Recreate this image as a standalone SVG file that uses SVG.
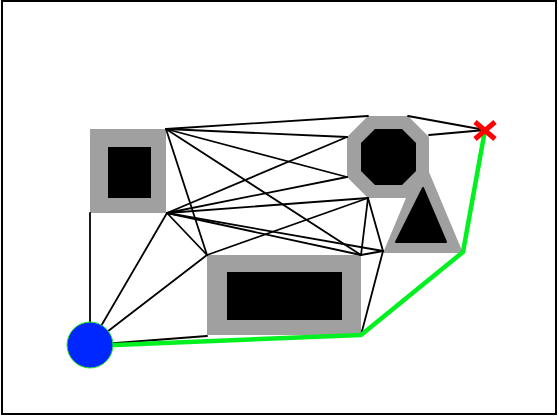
<svg xmlns="http://www.w3.org/2000/svg" width="559" height="418" viewBox="0 0 559 418">
<style>
.zone{fill:#a0a0a0}
.core{fill:#000}
.edge{stroke:#000;stroke-width:1.8;fill:none;stroke-linecap:round}
.path{stroke:#00f020;stroke-width:4.5;fill:none;stroke-linejoin:round;stroke-linecap:round}
</style>
<rect x="2" y="1" width="554" height="413" fill="#fff" stroke="#000" stroke-width="2"/>
<g id="obstacle-square">
<rect class="zone" x="90" y="129" width="76" height="84"/>
<rect class="core" x="108" y="147" width="43" height="51"/>
</g>
<g id="obstacle-octagon-triangle">
<polygon class="zone" points="368,116 408,116 429,137 429,172 463,253 383,253 406,198 368,198 347,177 347,137"/>
<polygon class="core" points="375,129 402,129 416,143 416,171 402,185 375,185 361,171 361,143"/>
<polygon class="core" points="423,188 446,242 396,242" stroke="#000" stroke-width="2" stroke-linejoin="round"/>
</g>
<g id="obstacle-rect">
<rect class="zone" x="207" y="255" width="154" height="80"/>
<rect class="core" x="227" y="272" width="115" height="48"/>
</g>
<g id="connectors">
<line class="edge" x1="90" y1="213" x2="90" y2="345"/>
<line class="edge" x1="167" y1="213" x2="90" y2="345"/>
<line class="edge" x1="207" y1="255" x2="90" y2="345"/>
<line class="edge" x1="207" y1="336" x2="90" y2="345"/>
<line class="edge" x1="166" y1="129" x2="368" y2="116"/>
<line class="edge" x1="166" y1="129" x2="347" y2="137"/>
<line class="edge" x1="166" y1="129" x2="347" y2="177"/>
<line class="edge" x1="166" y1="129" x2="361" y2="255"/>
<line class="edge" x1="166" y1="129" x2="207" y2="255"/>
<line class="edge" x1="167" y1="213" x2="347" y2="137"/>
<line class="edge" x1="167" y1="213" x2="347" y2="177"/>
<line class="edge" x1="167" y1="213" x2="368" y2="198"/>
<line class="edge" x1="167" y1="213" x2="361" y2="255"/>
<line class="edge" x1="167" y1="213" x2="383" y2="251"/>
<line class="edge" x1="167" y1="213" x2="207" y2="255"/>
<line class="edge" x1="207" y1="255" x2="368" y2="198"/>
<line class="edge" x1="368" y1="198" x2="361" y2="255"/>
<line class="edge" x1="368" y1="198" x2="383" y2="251"/>
<line class="edge" x1="361" y1="255" x2="383" y2="251"/>
<line class="edge" x1="383" y1="251" x2="361" y2="335"/>
<line class="edge" x1="408" y1="116" x2="485" y2="130"/>
<line class="edge" x1="429" y1="135" x2="485" y2="130"/>
<polyline class="path" points="90,346 361,335 463,252 485,130"/>
</g>
<g id="start">
<circle cx="90" cy="345" r="23" fill="#0027ff" stroke="#22ee22" stroke-width="1"/>
</g>
<g id="goal">
<line x1="475" y1="122" x2="495" y2="139" stroke="#ff0000" stroke-width="5"/>
<line x1="475" y1="139" x2="495" y2="122" stroke="#ff0000" stroke-width="5"/>
</g>
</svg>
